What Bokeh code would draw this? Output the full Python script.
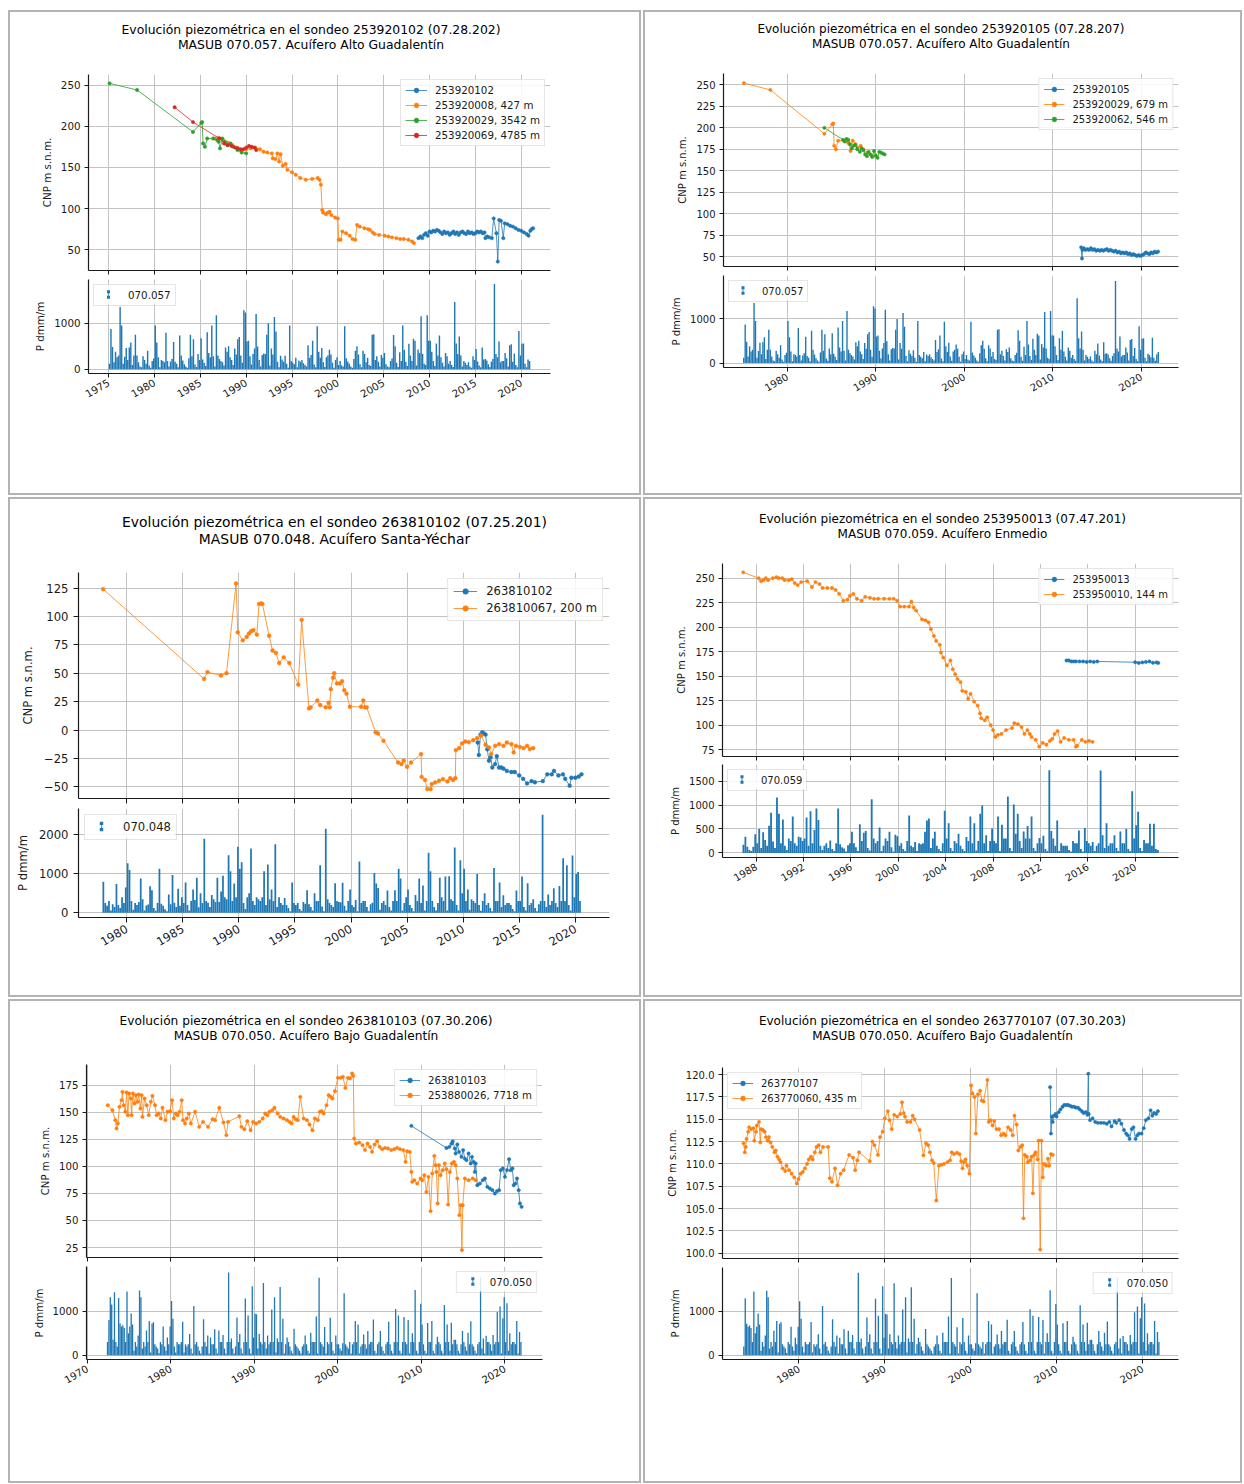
import math
from bokeh.plotting import figure
from bokeh.models import Range1d, FixedTicker, Legend, LegendItem, Div, NumeralTickFormatter, BoxAnnotation
from bokeh.layouts import column, row
from bokeh.core.properties import value
from bokeh.embed import file_html
from bokeh.resources import INLINE

BLUE = "#1f77b4"; ORANGE = "#ff7f0e"; GREEN = "#2ca02c"; RED = "#d62728"
FONT = "DejaVu Sans"
TXT = "#1a1a1a"

# ============================ DATA ============================
# ---- Panel 1: sondeo 253920102 ----
p1_blue = [(2008.8,64),(2009.0,66),(2009.2,64),(2009.4,68),(2009.6,70),(2009.8,67),(2010.0,72),(2010.2,71),(2010.4,73),(2010.6,72),
           (2010.8,74),(2011.0,73),(2011.2,71),(2011.4,69),(2011.6,72),(2011.8,70),(2012.0,71),(2012.2,68),(2012.4,70),(2012.6,72),
           (2012.8,69),(2013.0,71),(2013.2,68),(2013.4,71),(2013.6,72),(2013.8,70),(2014.0,69),(2014.2,72),(2014.4,70),(2014.6,71),
           (2014.8,69),(2015.0,70),(2015.2,72),(2015.4,71),(2015.6,72),(2015.8,70),(2016.0,71),(2016.1,64),(2016.3,66),(2016.5,65),
           (2016.8,64),(2017.0,88),(2017.3,70),(2017.45,35.5),(2017.6,86),(2017.8,85),(2018.05,64),(2018.2,82),(2018.5,81),(2018.8,79),
           (2019.1,78),(2019.4,76),(2019.7,74),(2020.0,73),(2020.3,71),(2020.6,69),(2020.8,67),(2021.0,73),(2021.15,75),(2021.3,76)]
p1_orange = [(1986.6,185),(1987.0,186),(1987.5,183),(1988.0,180),(1988.5,177),(1989.0,174),(1989.5,170),(1990.0,172),(1990.5,173),(1991.0,174),
             (1991.5,172),(1991.9,169),(1992.3,168),(1992.8,167),(1992.9,161),(1993.2,160),(1993.4,167),(1993.6,157),(1993.75,166),(1994.0,152),
             (1994.3,154),(1994.5,147),(1995.0,144),(1995.4,141),(1995.9,137),(1996.5,135),(1997.2,136),(1997.8,137),(1998.0,135),(1998.15,129),
             (1998.3,98),(1998.4,95),(1998.7,93),(1998.9,95),(1999.1,96),(1999.3,92),(1999.7,89),(2000.0,88),(2000.1,62),(2000.3,62),
             (2000.5,72),(2000.9,70),(2001.3,67),(2001.6,63),(2001.9,62),(2002.1,80),(2002.4,78),(2002.9,76),(2003.3,75),(2003.5,74),
             (2003.8,71),(2004.0,69),(2004.5,68),(2005.1,67),(2005.5,66),(2005.9,65),(2006.4,64),(2006.8,63),(2007.2,63),(2007.7,62),
             (2008.1,60),(2008.3,58)]
w253920029 = [(1975.1,252),(1978.1,244),(1984.2,193),(1985.1,204),(1985.2,205),(1985.3,179),(1985.5,175),(1985.75,185),(1986.4,185),(1986.85,183),
              (1987.0,181),(1987.15,173),(1987.4,185),(1987.7,181),(1987.95,177),(1988.3,179),(1988.6,175),(1989.05,171),(1989.5,168),(1990.0,167)]
p1_red = [(1982.2,223),(1984.2,205),(1987.1,185),(1987.6,179),(1988.0,177),(1988.4,176),(1988.8,174),(1989.1,173),(1989.4,172),(1989.7,172),
          (1990.0,174),(1990.3,176),(1990.6,175),(1990.9,174),(1991.1,171)]

# ---- Panel 2: sondeo 253920105 ----
p2_blue = [(2013.2,61),(2013.3,48),(2013.35,58),(2013.5,60),(2013.7,58),(2013.9,59),(2014.1,58),(2014.3,60),(2014.5,58),(2014.7,59),
           (2014.9,57),(2015.1,58),(2015.3,57),(2015.5,58),(2015.7,57),(2015.9,58),(2016.1,59),(2016.3,57),(2016.5,58),(2016.7,57),
           (2016.9,56),(2017.1,57),(2017.3,55),(2017.5,56),(2017.7,54),(2017.9,55),(2018.1,54),(2018.3,55),(2018.5,53),(2018.7,54),
           (2018.9,52),(2019.1,53),(2019.3,52),(2019.5,51),(2019.7,52),(2019.9,51),(2020.1,52),(2020.3,53),(2020.5,55),(2020.7,54),
           (2020.9,53),(2021.1,55),(2021.3,54),(2021.5,56),(2021.7,55),(2021.9,56)]
p2_green = [(1984.2,200),(1986.3,186),(1986.5,184),(1986.7,187),(1986.9,186),(1987.1,181),(1987.3,176),(1987.5,179),(1987.7,180),(1987.9,175),
            (1988.2,172),(1988.4,176),(1988.6,174),(1988.8,169),(1989.0,167),(1989.2,172),(1989.4,169),(1989.6,166),(1989.8,173),(1990.0,168),
            (1990.2,165),(1990.4,172),(1990.6,171),(1990.8,170),(1991.0,169)]

# ---- Panel 3: sondeo 263810102 ----
p3_orange = [(1977.9,124),(1986.9,45),(1987.2,51),(1988.4,48),(1988.9,50),(1989.75,129),(1989.9,86),(1990.35,79),(1990.7,82),(1990.9,85),
             (1991.1,87),(1991.3,88),(1991.6,84),(1991.8,111),(1992.0,111.5),(1992.1,111),(1992.7,83),(1993.0,70),(1993.3,68),(1993.6,59),
             (1994.0,64),(1994.5,59),(1995.3,40),(1995.6,97),(1996.25,19),(1996.4,20),(1997.0,26),(1997.25,22),(1997.75,20),(1998.0,24),
             (1998.1,20),(1998.2,36),(1998.4,46),(1998.5,50),(1998.75,41),(1999.0,41),(1999.2,43),(1999.4,35),(1999.6,32),(1999.9,20.5),
             (2000.9,20.5),(2001.1,26),(2001.25,20),(2001.4,20),(2002.2,-2),(2002.4,-3),(2002.9,-9.5),(2004.2,-28.6),(2004.5,-30),(2004.7,-27),
             (2005.0,-32.4),(2005.35,-28.6),(2006.25,-21.2),(2006.3,-41.2),(2006.6,-44),(2006.8,-52),(2007.1,-52),(2007.2,-47.6),(2007.5,-46.2),(2007.85,-44.7),
             (2008.2,-43.2),(2008.6,-45.3),(2008.85,-42.4),(2009.1,-44),(2009.3,-42.4),(2009.35,-17.7),(2009.65,-15.9),(2009.9,-11.8),(2010.2,-10.1),(2010.5,-10.6),
             (2010.9,-8.9),(2011.25,-7.1),(2011.6,-4.8),(2012.0,-13),(2012.3,-15.3),(2012.5,-21.2),(2012.85,-13.9),(2013.2,-12.4),(2013.6,-13.9),(2013.9,-11),
             (2014.3,-12.4),(2014.5,-19.7),(2014.7,-13.9),(2015.05,-14.8),(2015.4,-15.9),(2015.7,-13.9),(2015.95,-16.8),(2016.25,-15.9)]
p3_blue = [(2011.3,-11),(2011.4,-22),(2011.55,-4),(2011.7,-2),(2011.85,-3),(2012.0,-4),(2012.15,-17),(2012.3,-27),(2012.45,-24),(2012.6,-33),
           (2012.85,-30),(2013.0,-23),(2013.2,-33),(2013.4,-33),(2013.6,-34),(2013.9,-36),(2014.3,-37),(2014.6,-37),(2015.0,-40),(2015.35,-43),
           (2015.7,-47),(2016.1,-45),(2016.4,-46),(2017.1,-45),(2017.5,-39),(2017.9,-39),(2018.1,-36),(2018.5,-40),(2018.9,-39),(2019.1,-43),
           (2019.5,-49),(2019.65,-42),(2020.0,-42),(2020.3,-41),(2020.55,-39)]

# ---- Panel 4: sondeo 253950013 ----
p4_orange = [(1986.9,256),(1988.2,250),(1988.4,247),(1988.6,248),(1988.8,250),(1989.0,248),(1989.4,250),(1989.7,251),(1989.9,250),(1990.2,250),
             (1990.4,248),(1990.75,248),(1991.0,249),(1991.25,245),(1991.5,243),(1991.8,246),(1992.3,247),(1992.7,241),(1993.0,246),(1993.35,244),
             (1993.6,240),(1994.0,240),(1994.4,240),(1994.7,238),(1995.0,234),(1995.35,227),(1995.7,228),(1995.9,232),(1996.2,234),(1996.5,229),
             (1996.9,227),(1997.2,231),(1997.6,230),(1997.95,229),(1998.3,229),(1998.8,229),(1999.25,229),(1999.6,229),(1999.9,227),(2000.15,221),
             (2000.5,221),(2000.9,221),(2001.1,226),(2001.3,220),(2001.5,217),(2002.0,208),(2002.3,207),(2002.55,205),(2002.75,198),(2003.0,191),
             (2003.2,186),(2003.5,182),(2003.6,174),(2003.8,169),(2004.1,161),(2004.4,166),(2004.6,157),(2004.8,152),(2005.0,147),(2005.25,144),
             (2005.4,135),(2005.7,134),(2005.9,127),(2006.1,132),(2006.4,124),(2006.7,120),(2006.9,112),(2007.0,107),(2007.3,105),(2007.5,108),
             (2007.8,100),(2008.0,95),(2008.2,88),(2008.4,90),(2008.7,91),(2009.1,95),(2009.6,97),(2009.8,102),(2010.1,101),(2010.4,98),
             (2010.65,91),(2010.9,95),(2011.1,91),(2011.25,88),(2011.6,85),(2011.9,78),(2012.2,82),(2012.5,80),(2012.8,84),(2013.0,86),
             (2013.2,91),(2013.45,94),(2013.7,83),(2014.0,87),(2014.4,85),(2014.8,85),(2015.0,78),(2015.1,79),(2015.5,85),(2015.8,83),
             (2016.1,84),(2016.4,83)]
p4_blue = [(2014.2,166),(2014.4,166),(2014.6,165),(2014.8,165),(2015.0,165),(2015.3,165),(2015.6,165),(2015.9,164.5),(2016.2,165),(2016.5,164.5),
           (2016.8,165),(2020.0,164.2),(2020.3,163.5),(2020.6,164),(2020.9,164.5),(2021.2,165),(2021.5,163.7),(2021.8,164),(2021.95,163.5)]

# ---- Panel 5: sondeo 263810103 ----
p5_orange = [(1972.45,156.5),(1973.0,151.9),(1973.35,142.7),(1973.5,135),(1973.65,139.6),(1973.85,155),(1974.1,161.1),(1974.2,168.8),(1974.35,156.5),(1974.55,150.4),
             (1974.7,168.2),(1974.85,147.3),(1975.0,167.3),(1975.2,162.7),(1975.3,147.3),(1975.45,167.3),(1975.65,158.1),(1975.8,165.8),(1976.0,159.6),(1976.15,166.4),
             (1976.35,153.4),(1976.5,165.8),(1976.6,145.7),(1976.85,162.7),(1977.1,156.5),(1977.35,147.3),(1977.6,159.6),(1977.8,165.1),(1978.1,156.5),(1978.3,147.3),
             (1978.55,148.8),(1978.8,144.2),(1979.0,154.1),(1979.35,142.7),(1979.6,150.4),(1979.9,151),(1980.15,161.1),(1980.35,144.2),(1980.6,148.8),(1980.8,147.3),
             (1981.05,150.4),(1981.3,161.1),(1981.45,142.7),(1981.7,139.6),(1981.9,144.2),(1982.15,148.8),(1982.4,139.6),(1982.9,150.4),(1983.4,136.5),(1983.85,141.1),
             (1984.45,136.5),(1985.0,143.6),(1985.3,142.7),(1985.8,154.1),(1986.3,140.5),(1986.65,128.8),(1986.85,141.1),(1988.2,146.4),(1988.45,136.5),(1988.8,134.3),
             (1989.15,141.7),(1989.55,133.4),(1989.85,141.1),(1990.2,139.6),(1990.6,141.1),(1991.0,144.2),(1991.3,148.8),(1991.55,147.3),(1991.8,150.4),(1992.15,151.9),
             (1992.4,154.1),(1992.8,148.8),(1993.1,145.7),(1993.5,144.2),(1993.9,142.7),(1994.2,141.1),(1994.45,139.6),(1994.7,145.7),(1994.95,143.6),(1995.2,142.7),
             (1995.5,164.2),(1995.9,144.2),(1996.3,142.7),(1996.6,138.7),(1996.95,133.4),(1997.25,144.2),(1997.6,142.7),(1997.85,150.4),(1998.05,151),(1998.3,148.8),
             (1998.65,156.5),(1998.9,165.8),(1999.15,164.2),(1999.35,162.7),(1999.65,169.5),(2000.0,181.8),(2000.35,181.8),(2000.6,182.7),(2000.9,172.5),(2001.2,181.8),
             (2001.45,181.2),(2001.7,185.8),(2001.85,183.6),(2001.95,125.7),(2002.15,121.1),(2002.55,122),(2002.95,119.6),(2003.25,115),(2003.55,121.1),(2003.85,118),
             (2004.1,113.4),(2004.4,120.2),(2004.7,123.3),(2005.0,118),(2005.3,115.9),(2005.65,117.1),(2006.0,116.5),(2006.4,115),(2006.75,115.9),(2007.1,117.1),
             (2007.45,115.9),(2007.85,115),(2008.1,104.2),(2008.3,114),(2008.6,113.4),(2008.8,94.9),(2008.9,85.7),(2009.15,87.2),(2009.5,84.1),(2009.9,88.8),
             (2010.1,87.2),(2010.35,91.8),(2010.6,76.4),(2010.85,90.3),(2011.1,58.6),(2011.3,93.4),(2011.55,109.7),(2011.7,101.1),(2011.8,94.9),(2011.95,65.7),
             (2012.1,101.1),(2012.3,91.8),(2012.55,96.5),(2012.8,102.6),(2013.0,97.4),(2013.2,64.7),(2013.4,94.9),(2013.65,102.6),(2013.9,104.2),(2014.1,101.1),
             (2014.3,88.8),(2014.55,54.9),(2014.7,64.1),(2014.85,22.6),(2014.95,64.1),(2015.2,88.8),(2015.65,87.2),(2016.15,88.8),(2016.5,87.2)]
p5_blue = [(2008.8,137.4),(2013.0,117),(2013.35,118),(2013.6,121),(2013.75,123),(2014.0,116.5),(2014.1,111.9),(2014.3,120.2),(2014.5,113.4),(2014.8,108.8),
           (2015.0,115),(2015.2,107.2),(2015.4,105.7),(2015.65,111.9),(2015.9,102.6),(2016.05,108.8),(2016.25,104.2),(2016.4,94.9),(2016.5,102.6),(2016.7,82.6),
           (2017.0,84.1),(2017.35,87.2),(2017.6,88.8),(2017.9,81.1),(2018.2,79.5),(2018.5,78),(2018.8,74.9),(2019.05,77.1),(2019.3,78),(2019.5,96.5),
           (2019.75,98),(2020.0,90.3),(2020.25,96.5),(2020.5,106.6),(2020.7,96.5),(2020.9,98),(2021.05,82.6),(2021.25,84.1),(2021.45,88.8),(2021.65,78),
           (2021.8,65.7),(2022.0,62.6)]

# ---- Panel 6: sondeo 263770107 ----
p6_orange = [(1973.55,112.3),(1973.7,111.3),(1973.8,111.9),(1973.9,112.8),(1974.1,113.6),(1974.2,114.1),(1974.45,113.9),(1974.7,114),(1974.8,112.6),(1975.0,113.6),
             (1975.1,114.3),(1975.35,114.7),(1975.5,112.4),(1975.6,113.9),(1975.8,113.8),(1976.0,113.6),(1976.15,113),(1976.35,112.6),(1976.5,113),(1976.7,112.4),
             (1976.9,111.9),(1977.15,111.3),(1977.3,111.5),(1977.5,110.8),(1977.7,110.5),(1977.85,110.2),(1978.1,109.5),(1978.4,109.2),(1978.55,109.8),(1978.85,109.3),
             (1979.15,108.9),(1979.45,108.5),(1979.75,107.8),(1979.95,108.3),(1980.2,108.9),(1980.45,109.1),(1980.7,109.5),(1980.95,110),(1981.15,110.5),(1981.4,110.8),
             (1981.6,110.5),(1981.85,111.3),(1982.05,111.9),(1982.3,112.1),(1982.5,111.3),(1982.8,111.9),(1983.4,111.9),(1983.6,108.4),(1983.85,108),(1984.2,109.5),
             (1984.5,107.6),(1984.85,108.9),(1985.2,109.3),(1985.85,111),(1986.3,110.7),(1986.55,109.3),(1986.8,110.4),(1987.0,111.3),(1988.25,110.3),(1988.55,112.5),
             (1988.8,112.1),(1989.2,111),(1989.45,113),(1989.75,113.6),(1990.0,115.1),(1990.35,115.9),(1990.55,114.9),(1990.8,113.9),(1991.1,115.5),(1991.45,115.3),
             (1991.8,115.6),(1992.0,116.9),(1992.2,115.7),(1992.35,115.3),(1992.6,114.7),(1993.0,114.7),(1993.25,115.4),(1993.45,115),(1994.05,113.8),(1994.5,110.95),
             (1994.8,112.3),(1995.05,112.1),(1995.25,111.3),(1995.5,110.4),(1995.7,110.1),(1996.0,105.9),(1996.3,109.8),(1996.6,109.9),(1996.9,110),(1997.3,110.2),
             (1997.6,110.4),(1997.8,111.3),(1998.05,111.1),(1998.4,111.25),(1998.7,111.1),(1998.9,110.3),(1999.05,109.5),(1999.25,110.2),(1999.4,110.5),(1999.6,109.8),
             (1999.85,108.9),(2000.05,118.8),(2000.2,117.9),(2000.45,117.5),(2000.6,113.4),(2000.85,117.8),(2001.1,118.2),(2001.3,117.1),(2001.5,117),(2001.95,119.4),
             (2002.1,114.7),(2002.3,114.9),(2002.55,114.3),(2002.75,114.8),(2003.0,113.9),(2003.3,113.9),(2003.55,113.2),(2003.8,113.4),(2004.05,113.2),(2004.35,114.1),
             (2004.65,113.8),(2004.9,113.2),(2005.1,115.4),(2005.35,114.4),(2005.55,111.5),(2005.8,111.9),(2006.0,112.1),(2006.15,103.9),(2006.3,111),(2006.55,110.8),
             (2006.65,110.2),(2006.9,110.4),(2007.1,110.8),(2007.25,106.7),(2007.4,111),(2007.55,111.3),(2007.8,110.5),(2007.9,112.6),(2008.1,100.4),(2008.25,112.6),
             (2008.4,108.5),(2008.55,110),(2008.8,109.8),(2009.0,110.6),(2009.15,109.8),(2009.35,111.1),(2009.55,111)]
p6_blue = [(2009.25,118.6),(2009.35,113.4),(2009.45,115.3),(2009.55,114.7),(2009.7,115.4),(2009.9,115.6),(2010.0,115.3),(2010.25,115.8),(2010.45,116.1),(2010.7,116.4),
           (2010.9,116.6),(2011.15,116.6),(2011.35,116.6),(2011.6,116.5),(2011.8,116.4),(2012.05,116.4),(2012.25,116.3),(2012.5,116.3),(2012.7,116.1),(2012.95,115.9),
           (2013.15,115.7),(2013.4,115.8),(2013.6,115.5),(2013.7,120.1),(2013.75,115.6),(2013.9,114.9),(2014.2,115.1),(2014.5,114.7),(2014.8,114.6),(2015.15,114.6),
           (2015.5,114.6),(2015.85,114.5),(2016.15,114.7),(2016.4,114.2),(2016.75,114.8),(2016.95,114.6),(2017.3,114.9),(2017.55,114.5),(2017.85,113.8),(2018.1,113.4),
           (2018.3,113.2),(2018.5,112.8),(2018.75,113.9),(2018.95,114.1),(2019.2,112.8),(2019.4,113.2),(2019.6,113.4),(2019.9,113.4),(2020.15,114),(2020.4,114.9),
           (2020.7,115.1),(2020.95,116),(2021.15,115.4),(2021.35,115.7),(2021.6,115.6),(2021.8,115.9)]

# ---- Precipitation (dmm per month), two-month bins, one row per year ----
P057_START = 1975.0
P057 = [[120,870,480,150,380,260],[300,1350,950,120,270,460],[200,470,580,90,300,750],[300,150,60,40,280,200],[120,400,80,30,180,230],
        [950,580,260,40,200,180],[150,790,180,60,170,220],[590,160,120,40,730,300],[190,110,60,30,240,750],[280,650,100,50,330,200],
        [670,210,140,70,800,350],[260,950,280,60,1170,300],[220,180,150,80,470,380],[500,260,200,90,450,320],[650,700,300,140,1280,1230],
        [600,620,280,100,330,450],[1200,490,200,60,310,340],[330,750,990,80,450,320],[1130,820,160,40,290,210],[160,290,120,30,950,180],
        [140,110,250,40,190,160],[200,130,90,60,520,250],[310,620,100,40,930,380],[250,460,150,50,260,300],[420,320,140,30,200,260],
        [90,180,80,60,930,240],[170,120,60,30,220,400],[500,320,110,40,400,330],[150,250,90,70,750,760],[200,280,160,60,310,250],
        [350,110,60,40,180,230],[740,500,140,50,370,180],[950,420,160,70,550,300],[180,660,620,80,430,350],[1150,330,120,90,1170,620],
        [620,380,180,70,560,300],[730,260,140,60,350,280],[120,180,90,50,1460,560],[330,710,300,60,180,140],[90,150,60,30,280,200],
        [440,170,80,40,470,210],[220,190,110,50,160,220],[1850,330,260,600,150,180],[180,350,240,60,520,540],[160,340,90,40,830,300],
        [550,560,120,40,210,180],[130,570,120,50,200,250]]
P048_START = 1977.0 + 5/6
P048 = [[800],
        [250,180,300,60,220,150],[740,200,120,400,250,650],[1270,1100,300,80,250,200],[280,880,350,60,190,210],[680,580,120,50,250,1130],
        [230,180,90,40,470,220],[970,260,150,620,180,400],[250,780,200,60,300,600],[330,900,140,500,250,1900],[300,260,150,460,350,280],
        [900,280,550,950,400,350],[1480,1070,300,750,400,1700],[1130,1300,250,100,400,500],[1650,300,200,400,350,300],[400,1070,200,1240,350,600],
        [300,1760,150,400,250,200],[380,200,120,40,780,250],[200,250,100,50,280,230],[580,220,150,60,500,300],[300,1220,160,40,2160,350],
        [250,200,150,760,300,280],[270,770,180,60,300,600],[200,150,330,40,1320,250],[300,300,150,40,220,260],[1020,750,640,80,250,300],
        [200,570,150,60,300,580],[300,1130,880,60,250,400],[600,200,120,40,460,300],[880,250,700,60,300,1540],[1070,300,150,60,250,900],
        [400,300,930,60,940,350],[300,1680,200,60,1350,500],[1130,300,600,80,350,300],[250,1000,200,50,300,500],[200,250,120,40,1150,300],
        [300,780,150,450,200,250],[250,200,100,40,570,300],[300,930,150,60,760,200],[250,350,120,40,220,300],[2520,300,150,470,200,300],
        [630,250,150,690,300,1400],[300,1220,200,60,1470,400],[1000,1050,300]]
P059_START = 1986.0 + 5/6
P059 = [[170],
        [340,130,60,40,130,390],[200,500,100,430,270,150],[570,840,240,100,1160,820],[200,700,150,60,300,250],[760,200,150,340,320,250],
        [300,740,150,870,200,480],[930,690,150,60,150,200],[100,260,80,40,200,930],[180,120,90,30,160,200],[440,200,120,40,600,250],
        [420,460,100,50,1120,300],[200,250,530,40,150,300],[250,440,120,30,380,350],[150,200,80,40,250,780],[150,120,230,40,200,180],
        [200,440,680,720,100,300],[440,150,80,40,200,880],[300,620,100,40,250,200],[400,150,80,40,330,250],[760,200,620,50,250,820],
        [990,200,370,40,250,510],[250,200,760,40,590,300],[300,1180,100,40,1010,400],[820,250,100,450,300,560],[300,760,100,40,200,310],
        [200,360,80,40,1730,460],[300,150,680,40,200,150],[150,150,60,30,250,200],[200,470,80,30,520,250],[200,150,230,40,150,200],
        [1720,370,100,620,150,200],[200,370,100,40,450,200],[200,500,80,40,1290,300],[580,860,100,40,270,200],[200,610,150,610,80,60]]
P050_START = 1972.0 + 2/6
P050 = [[300,800,1320,1150],
        [350,1430,300,200,1300,720],[650,680,620,300,1450,500],[650,950,700,100,300,200],[450,1470,1320,150,300,200],[560,300,780,60,720,750],
        [250,200,150,50,300,250],[650,200,100,400,250,650],[1230,830,200,60,300,250],[250,300,760,60,250,200],[250,480,150,40,1120,250],
        [300,200,100,40,200,820],[300,200,450,40,400,250],[250,590,150,40,560,300],[300,460,150,40,300,1880],[300,380,150,40,200,860],
        [300,480,150,40,300,1290],[300,900,150,40,1570,400],[940,930,150,480,300,250],[1640,300,150,450,250,300],[1040,300,1320,60,380,300],
        [1550,300,830,40,250,400],[300,200,100,40,600,250],[200,150,100,40,200,250],[450,250,100,40,510,300],[300,300,880,40,1760,300],
        [250,200,640,40,300,250],[850,300,100,40,450,250],[250,150,100,270,1410,250],[200,150,300,40,250,300],[780,300,700,40,200,250],
        [470,250,150,550,250,300],[300,810,100,40,250,300],[550,200,100,40,250,300],[760,250,100,40,300,1050],[300,900,100,40,300,870],
        [300,250,800,40,300,500],[300,1480,100,40,300,1170],[700,250,100,40,730,300],[300,780,100,40,250,420],[300,250,100,40,1140,300],
        [700,300,100,740,250,350],[350,250,100,40,250,550],[300,200,100,510,250,770],[250,200,100,40,250,300],[1780,150,380,40,440,300],
        [300,250,100,460,250,300],[980,300,1110,40,840,1320],[300,1180,100,500,250,300],[300,250,780,40,530,300]]

# tick labels
xt_p1 = [1975, 1980, 1985, 1990, 1995, 2000, 2005, 2010, 2015, 2020]
xt_p2 = [1980, 1990, 2000, 2010, 2020]
xt_p3 = [1980, 1985, 1990, 1995, 2000, 2005, 2010, 2015, 2020]
xt_p4 = [1988, 1992, 1996, 2000, 2004, 2008, 2012, 2016, 2020]
xt_p5 = [1970, 1980, 1990, 2000, 2010, 2020]
xt_p6 = [1980, 1990, 2000, 2010, 2020]


def precip(start, rows, x_from=None, x_to=None):
    vals = [v for r in rows for v in r]
    xs = [start + (i + 0.5) / 6 for i in range(len(vals))]
    out_x, out_v = [], []
    for x, v in zip(xs, vals):
        if (x_from is None or x >= x_from) and (x_to is None or x <= x_to):
            out_x.append(x); out_v.append(v)
    return out_x, out_v


def xy(pairs):
    return [p[0] for p in pairs], [p[1] for p in pairs]


PANELS = [
    dict(s=1.03, W=629, dx=-13.5, div_h=62, tpad=10, lh=15,
         title=("Evolución piezométrica en el sondeo 253920102 (07.28.202)", "MASUB 070.057. Acuífero Alto Guadalentín"),
         L=78, R=89, top_h=196, gap=9, bot_h=94, bot_extra=120,
         xr=(1972.8, 2023.2), yt=(24.7, 262.8), yb=(-93, 1946),
         yt_ticks=[50, 100, 150, 200, 250], yb_ticks=[0, 1000], xt=xt_p1,
         series=[("253920102", p1_blue, BLUE), ("253920008, 427 m", p1_orange, ORANGE),
                 ("253920029, 3542 m", w253920029, GREEN), ("253920069, 4785 m", p1_red, RED)],
         leg="top_right", pr=precip(P057_START, P057, None, 2021.0), prlabel="070.057", pleg="top_left"),
    dict(s=1.0, W=595, dx=-1.5, div_h=61, tpad=10, lh=15,
         title=("Evolución piezométrica en el sondeo 253920105 (07.28.207)", "MASUB 070.057. Acuífero Alto Guadalentín"),
         L=78, R=62, top_h=193, gap=9, bot_h=92, bot_extra=126,
         xr=(1972.8, 2024.2), yt=(38.7, 263.1), yb=(-100, 1972),
         yt_ticks=[50, 75, 100, 125, 150, 175, 200, 225, 250], yb_ticks=[0, 1000], xt=xt_p2,
         series=[("253920105", p2_blue, BLUE), ("253920029, 679 m", w253920029, ORANGE),
                 ("253920062, 546 m", p2_green, GREEN)],
         leg="top_right", pr=precip(P057_START, P057), prlabel="070.057", pleg="top_left"),
    dict(s=1.16, W=629, dx=10, div_h=73, tpad=15, lh=17,
         title=("Evolución piezométrica en el sondeo 263810102 (07.25.201)", "MASUB 070.048. Acuífero Santa-Yéchar"),
         L=68, R=30, top_h=226, gap=10, bot_h=109, bot_extra=78,
         xr=(1975.7, 2023.05), yt=(-60.3, 138.7), yb=(-121, 2680),
         yt_ticks=[-50, -25, 0, 25, 50, 75, 100, 125], yb_ticks=[0, 1000, 2000], xt=xt_p3,
         series=[("263810102", p3_blue, BLUE), ("263810067, 200 m", p3_orange, ORANGE)],
         leg="top_right", pr=precip(P048_START, P048), prlabel="070.048", pleg="top_left"),
    dict(s=1.0, W=595, dx=0, div_h=64, tpad=13, lh=15,
         title=("Evolución piezométrica en el sondeo 253950013 (07.47.201)", "MASUB 070.059. Acuífero Enmedio"),
         L=77, R=62, top_h=193, gap=8, bot_h=93, bot_extra=138,
         xr=(1985.15, 2023.66), yt=(68, 265), yb=(-96, 1848),
         yt_ticks=[75, 100, 125, 150, 175, 200, 225, 250], yb_ticks=[0, 500, 1000, 1500], xt=xt_p4,
         series=[("253950013", p4_blue, BLUE), ("253950010, 144 m", p4_orange, ORANGE)],
         leg="top_right", pr=precip(P059_START, P059), prlabel="070.059", pleg="top_left"),
    dict(s=1.02, W=629, dx=-18.5, div_h=63, tpad=13, lh=15,
         title=("Evolución piezométrica en el sondeo 263810103 (07.30.206)", "MASUB 070.050. Acuífero Bajo Guadalentín"),
         L=76, R=97, top_h=193, gap=9, bot_h=93, bot_extra=122,
         xr=(1969.9, 2024.5), yt=(15.8, 194.1), yb=(-98, 2017),
         yt_ticks=[25, 50, 75, 100, 125, 150, 175], yb_ticks=[0, 1000], xt=xt_p5,
         series=[("263810103", p5_blue, BLUE), ("253880026, 7718 m", p5_orange, ORANGE)],
         leg="top_right", pr=precip(P050_START, P050), prlabel="070.050", pleg="top_right"),
    dict(s=1.0, W=595, dx=0, div_h=66, tpad=13, lh=15,
         title=("Evolución piezométrica en el sondeo 263770107 (07.30.203)", "MASUB 070.050. Acuífero Bajo Guadalentín"),
         L=77, R=62, top_h=191, gap=9, bot_h=92, bot_extra=122,
         xr=(1971.1, 2024.2), yt=(99.4, 120.8), yb=(-98, 2000),
         yt_ticks=[100, 102.5, 105, 107.5, 110, 112.5, 115, 117.5, 120], yb_ticks=[0, 1000], xt=xt_p6,
         series=[("263770107", p6_blue, BLUE), ("263770060, 435 m", p6_orange, ORANGE)],
         leg="top_left", pr=precip(P050_START, P050, 1973.5, None), prlabel="070.050", pleg="top_right"),
]


def style(p, s, ylabel, yticks, xticks):
    p.outline_line_color = None
    p.background_fill_color = "white"
    p.border_fill_color = "white"
    p.xaxis[0].ticker = FixedTicker(ticks=xticks)
    p.yaxis[0].ticker = FixedTicker(ticks=yticks)
    for g in (p.xgrid[0], p.ygrid[0]):
        g.grid_line_color = "#c2c2c2"
        g.grid_line_width = 1
    for ax in (p.xaxis[0], p.yaxis[0]):
        ax.axis_line_color = TXT
        ax.axis_line_width = 1.2
        ax.major_tick_line_color = TXT
        ax.major_tick_line_width = 1
        ax.major_tick_in = 0
        ax.major_tick_out = round(4 * s)
        ax.minor_tick_line_color = None
        ax.major_label_text_font = FONT
        ax.major_label_text_font_size = f"{10 * s:.1f}px"
        ax.major_label_text_color = TXT
        ax.major_label_standoff = round(4 * s)
    ya = p.yaxis[0]
    ya.axis_label = ylabel
    ya.axis_label_text_font = FONT
    ya.axis_label_text_font_size = f"{10 * s:.1f}px"
    ya.axis_label_text_font_style = "normal"
    ya.axis_label_text_color = TXT
    ya.axis_label_standoff = round(5 * s)
    neg = {t: ("\u2212" + str(abs(t))) for t in yticks if t < 0}
    if neg:
        ya.major_label_overrides = neg


LEG = dict(margin=5, padding=4, spacing=3, glyph_w=21, glyph_h=12, standoff=8)


def make_legend(items, s, loc, bg_alpha=0.85):
    return Legend(items=items, location=loc, margin=round(LEG["margin"] * s), padding=round(LEG["padding"] * s),
                  spacing=round(LEG["spacing"] * s), glyph_width=round(LEG["glyph_w"] * s),
                  glyph_height=round(LEG["glyph_h"] * s), label_height=round(LEG["glyph_h"] * s),
                  label_standoff=round(LEG["standoff"] * s), label_text_font=FONT, label_text_font_size=f"{10 * s:.1f}px",
                  label_text_color=TXT, background_fill_color="white", background_fill_alpha=bg_alpha,
                  border_line_color="#cccccc", border_line_width=1)


def screen_box(gx0, gx1, gy0, gy1, color=BLUE, alpha=1.0):
    return BoxAnnotation(left=gx0, right=gx1, bottom=gy0, top=gy1,
                         left_units="screen", right_units="screen", bottom_units="screen", top_units="screen",
                         fill_color=color, fill_alpha=alpha, line_color=None, level="overlay")


def make_panel(c):
    s = c["s"]; W = c["W"]
    fw = W - c["L"] - c["R"]
    t1, t2 = c["title"]
    div = Div(text=(f'<div style="position:relative;left:{c["dx"]}px;width:{W}px;text-align:center;'
                    f'padding-top:{c["tpad"]}px;font-family:\'DejaVu Sans\';font-size:{12 * s:.1f}px;'
                    f'line-height:{c["lh"]}px;color:#000;white-space:nowrap;">{t1}<br>{t2}</div>'),
              width=W, height=c["div_h"], margin=0)
    xr = Range1d(*c["xr"])
    pt = figure(width=W, height=c["top_h"] + c["gap"], x_range=xr, y_range=Range1d(*c["yt"]),
                output_backend="svg", toolbar_location=None, margin=0,
                min_border_left=c["L"], min_border_right=c["R"], min_border_top=0, min_border_bottom=c["gap"])
    style(pt, s, "CNP m s.n.m.", c["yt_ticks"], c["xt"])
    pt.xaxis[0].major_label_overrides = {t: "" for t in c["xt"]}
    pt.xaxis[0].major_label_text_font_size = "0px"
    pt.xaxis[0].major_label_standoff = 0
    if c["yt_ticks"][1] == 102.5:
        pt.yaxis[0].formatter = NumeralTickFormatter(format="0.0")
    items = []
    for label, pairs, col in c["series"]:
        xs, ys = xy(pairs)
        rl = pt.line(xs, ys, line_color=col, line_width=1, line_alpha=0.8)
        rs = pt.scatter(xs, ys, size=3.3 * s, marker="circle", fill_color=col, line_color=col, line_width=0.5)
        items.append(LegendItem(label=value(label), renderers=[rl, rs]))
    pt.add_layout(make_legend(items, s, c["leg"]))

    pb = figure(width=W, height=c["bot_h"] + c["bot_extra"], x_range=xr, y_range=Range1d(*c["yb"]),
                output_backend="svg", toolbar_location=None, margin=0,
                min_border_left=c["L"], min_border_right=c["R"], min_border_top=0, min_border_bottom=c["bot_extra"])
    style(pb, s, "P dmm/m", c["yb_ticks"], c["xt"])
    pb.xaxis[0].major_label_orientation = math.pi / 6
    px, pv = c["pr"]
    pb.vbar(x=px, top=pv, bottom=0, width=0.155, fill_color=BLUE, line_color=None, fill_alpha=1.0)

    # precipitation legend: transparent Bokeh legend (border + label) over a white panel and a blue "⁞" symbol
    m = round(LEG["margin"] * s); pad = round(LEG["padding"] * s); gw = round(LEG["glyph_w"] * s)
    gh = round(LEG["glyph_h"] * s)
    txt_w = (6 * 0.636 + 0.318) * 10 * s
    leg_w = 2 * pad + gw + round(LEG["standoff"] * s) + txt_w
    leg_h = 2 * pad + gh
    if c["pleg"] == "top_left":
        lx0 = m
    else:
        lx0 = fw - m - leg_w
    ly1 = c["bot_h"] - m
    pb.add_layout(screen_box(lx0, lx0 + leg_w, ly1 - leg_h, ly1, color="white", alpha=0.85))
    gx = lx0 + pad + gw / 2
    gy = ly1 - pad - gh / 2
    d = 1.5 * s
    pb.add_layout(screen_box(gx - 0.6, gx + 0.6, gy - 3 * s, gy + 3 * s, alpha=0.7))
    pb.add_layout(screen_box(gx - d, gx + d, gy + 1.2 * s, gy + 1.2 * s + 2 * d))
    pb.add_layout(screen_box(gx - d, gx + d, gy - 1.2 * s - 2 * d, gy - 1.2 * s))
    dummy = pb.scatter(x=[float("nan")], y=[float("nan")], marker="circle", size=1,
                       fill_alpha=0, line_alpha=0)
    pb.add_layout(make_legend([LegendItem(label=value(c["prlabel"]), renderers=[dummy])], s, c["pleg"], bg_alpha=0.0))

    return column(div, pt, pb, spacing=0, margin=0,
                  styles={"border": "2px solid #b3b3b3", "background-color": "white"})


cells = [make_panel(c) for c in PANELS]
layout = column(
    row(cells[0], cells[1], spacing=2),
    row(cells[2], cells[3], spacing=2),
    row(cells[4], cells[5], spacing=2),
    spacing=2, margin=(10, 0, 0, 8))

with open("out.html", "w", encoding="utf-8") as f:
    f.write(file_html(layout, INLINE, "Evolución piezométrica"))
